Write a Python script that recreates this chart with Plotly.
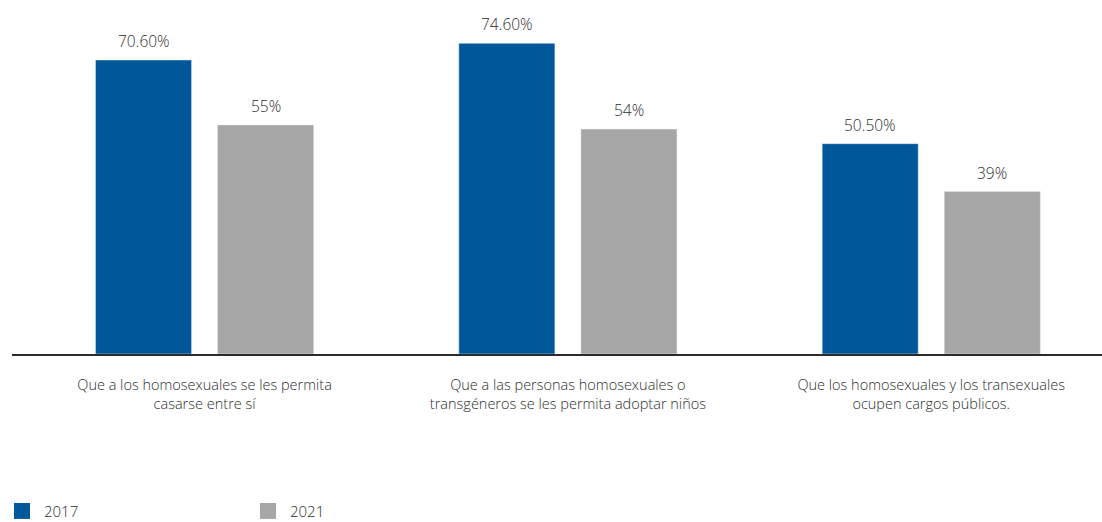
import plotly.graph_objects as go

categories = [
    "Que a los homosexuales se les permita<br>casarse entre sí",
    "Que a las personas homosexuales o<br>transgéneros se les permita adoptar niños",
    "Que los homosexuales y los transexuales<br>ocupen cargos públicos.",
]
values_2017 = [70.6, 74.6, 50.5]
values_2021 = [55, 54, 39]
labels_2017 = ["70.60%", "74.60%", "50.50%"]
labels_2021 = ["55%", "54%", "39%"]
series_names = ["2017", "2021"]

BLUE = "#00589B"
GRAY = "#A6A6A6"
TXT = "#2e2e2e"
FONT = "Open Sans"

W, H = 1102, 522
ML, MR, MT, MB = 12, 0, 0, 168
BARGAP, GROUPGAP = 0.328, 0.213
xr = [-0.53, 2.47]

fig = go.Figure()
fig.add_trace(go.Bar(name=series_names[0], x=categories, y=values_2017,
                     marker_color=BLUE, showlegend=False))
fig.add_trace(go.Bar(name=series_names[1], x=categories, y=values_2021,
                     marker_color=GRAY, showlegend=False))
# legend entries with larger square swatches
for nm, col in zip(series_names, [BLUE, GRAY]):
    fig.add_trace(go.Scatter(name=nm, x=[None], y=[None], mode="markers",
                             marker=dict(symbol="square", size=20, color=col),
                             showlegend=True))

cat_px = (W - ML - MR) / (xr[1] - xr[0])
slot = cat_px * (1 - BARGAP) / 2
for vals, labs, sign in [(values_2017, labels_2017, -1), (values_2021, labels_2021, 1)]:
    for c, v, t in zip(categories, vals, labs):
        fig.add_annotation(x=c, y=v, text=t, showarrow=False, xref="x", yref="y",
                           yanchor="bottom", xshift=sign * slot / 2, yshift=6,
                           font=dict(size=15.5, color=TXT, family=FONT, weight=300))

fig.update_layout(
    width=W, height=H,
    margin=dict(l=ML, r=MR, t=MT, b=MB, autoexpand=False),
    paper_bgcolor="white", plot_bgcolor="white",
    barmode="group", bargap=BARGAP, bargroupgap=GROUPGAP,
    font=dict(family=FONT, color=TXT, size=14.5, weight=300),
    xaxis=dict(range=xr, showline=True, linecolor="#2b2b2b", linewidth=2,
               showgrid=False, ticks="", ticklabelstandoff=17, automargin=False,
               tickfont=dict(size=14.5, color=TXT, family=FONT, weight=300)),
    yaxis=dict(range=[0, 85], visible=False, showgrid=False, zeroline=False,
               automargin=False),
    legend=dict(orientation="h", xref="container", yref="paper",
                x=-0.002, xanchor="left", y=-0.444, yanchor="middle",
                entrywidth=197, entrywidthmode="pixels", itemwidth=34,
                font=dict(size=15, color=TXT, family=FONT, weight=300),
                itemsizing="trace"),
    showlegend=True,
)

fig.write_html("out.html", config={"displayModeBar": False},
               post_script="document.body.style.margin='0';document.body.style.padding='0';")
